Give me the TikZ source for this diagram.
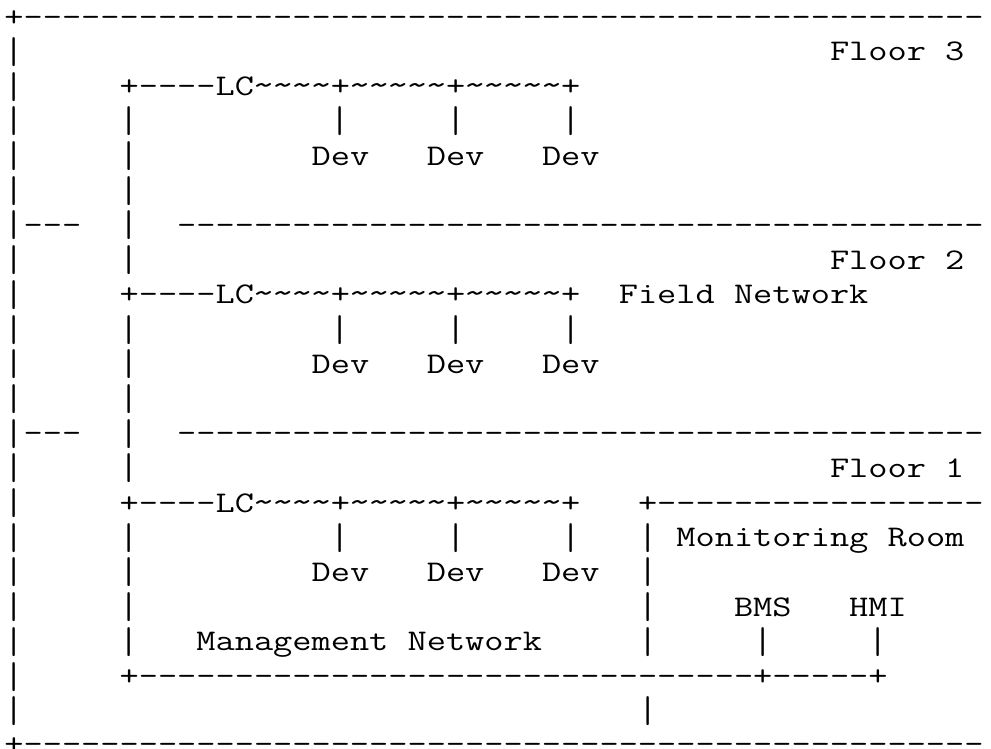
\documentclass[tikz,border=0pt]{standalone}
\usepackage{graphicx}
\newlength\ascw
\newlength\barh
\newlength\bard
\newcommand\ascfont{\ttfamily\fontsize{30}{30}\selectfont}
\newcommand\onetld{\makebox[0.1\ascw][c]{\scalebox{1.2}[1.1]{\textasciitilde}}}
\newcommand\vbar{\raisebox{\barraise}{\scalebox{1}[\barsy]{|}}}
\ExplSyntaxOn
\NewDocumentCommand\dsh{m}{\prg_replicate:nn{#1}{\hbox{-}}}
\NewDocumentCommand\tld{m}{\prg_replicate:nn{#1}{\onetld}}
\ExplSyntaxOff
\AtBeginDocument{%
  \settowidth\ascw{\ascfont MMMMMMMMMM}%
  \pgfmathsetmacro\sx{192/\ascw}\xdef\sx{\sx}%
  \settoheight\barh{\ascfont|}\settodepth\bard{\ascfont|}%
  \pgfmathsetmacro\barsy{29/(\barh+\bard)}\xdef\barsy{\barsy}%
  \pgfmathsetmacro\barraise{23.5-\barsy*\barh}\xdef\barraise{\barraise pt}}
\tikzset{asc/.style={anchor=base west,inner sep=0pt,outer sep=0pt,text=black}}
\newcommand\tok[3]{\node[asc] (r#2c#1) at ({4.4+#1*19.2},{-26.3-#2*34.7}) {\scalebox{\sx}[1]{\ascfont #3}};}
\newcommand\lcrow[1]{\tok{6}{#1}{+}\tok{7}{#1}{\dsh{4}}\tok{11}{#1}{LC}\tok{13}{#1}{\tld{4}}\tok{17}{#1}{+}\tok{18}{#1}{\tld{5}}\tok{23}{#1}{+}\tok{24}{#1}{\tld{5}}\tok{29}{#1}{+}}
\newcommand\barrow[1]{\tok{6}{#1}{\vbar}\tok{17}{#1}{\vbar}\tok{23}{#1}{\vbar}\tok{29}{#1}{\vbar}}
\newcommand\devrow[1]{\tok{6}{#1}{\vbar}\tok{16}{#1}{Dev}\tok{22}{#1}{Dev}\tok{28}{#1}{Dev}}
\begin{document}
\begin{tikzpicture}[x=1pt,y=1pt]
\path[fill=white,use as bounding box] (0,0) rectangle (991,-749);
% left frame column
\foreach \r in {1,...,20}{\tok{0}{\r}{\vbar}}
\tok{0}{0}{+}\tok{1}{0}{\dsh{50}}
% bottom frame line (content lowered so that its box stays inside the page)
\node[asc] (r21c0) at (4.4,-746) {\raisebox{-7pt}[0pt][0pt]{\scalebox{\sx}[1]{\ascfont +\dsh{50}}}};
% floor 3
\tok{43}{1}{Floor 3}
\lcrow{2}
\barrow{3}
\devrow{4}
\tok{6}{5}{\vbar}
\tok{1}{6}{\dsh{3}}\tok{6}{6}{\vbar}\tok{9}{6}{\dsh{42}}
% floor 2
\tok{6}{7}{\vbar}\tok{43}{7}{Floor 2}
\lcrow{8}\tok{32}{8}{Field Network}
\barrow{9}
\devrow{10}
\tok{6}{11}{\vbar}
\tok{1}{12}{\dsh{3}}\tok{6}{12}{\vbar}\tok{9}{12}{\dsh{42}}
% floor 1
\tok{6}{13}{\vbar}\tok{43}{13}{Floor 1}
\lcrow{14}\tok{33}{14}{+}\tok{34}{14}{\dsh{17}}
\barrow{15}\tok{33}{15}{\vbar}\tok{35}{15}{Monitoring Room}
\devrow{16}\tok{33}{16}{\vbar}
\tok{6}{17}{\vbar}\tok{33}{17}{\vbar}\tok{38}{17}{BMS}\tok{44}{17}{HMI}
\tok{6}{18}{\vbar}\tok{10}{18}{Management Network}\tok{33}{18}{\vbar}\tok{39}{18}{\vbar}\tok{45}{18}{\vbar}
\tok{6}{19}{+}\tok{7}{19}{\dsh{32}}\tok{39}{19}{+}\tok{40}{19}{\dsh{5}}\tok{45}{19}{+}
\tok{33}{20}{\vbar}
\end{tikzpicture}
\end{document}
